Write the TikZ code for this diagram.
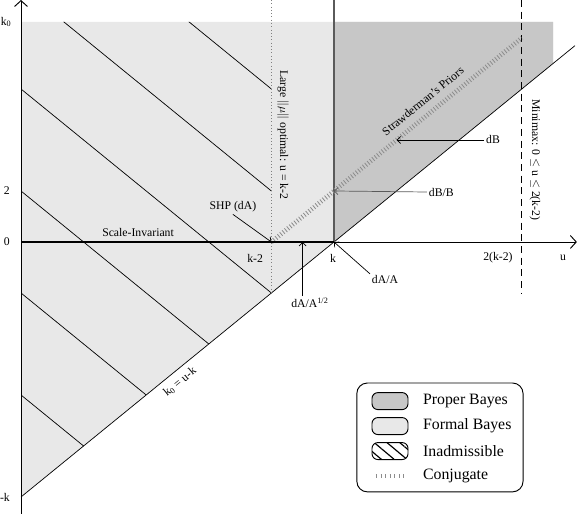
\documentclass[tikz,border=0pt]{standalone}
\usepackage{fontspec}
\setmainfont{Liberation Serif}
\usetikzlibrary{arrows.meta,patterns.meta}

\definecolor{properbayes}{RGB}{199,199,199}
\definecolor{formalbayes}{RGB}{232,232,232}
\definecolor{edgegray}{RGB}{90,90,90}
\definecolor{conjgray}{RGB}{140,140,140}

\begin{document}
\begin{tikzpicture}[x=0.939cm, y=0.765cm, font=\fontsize{10}{12}\selectfont,
    lbl/.style={inner sep=1.5pt},
    ptr/.style={-{Straight Barb[length=3pt,width=6pt]}, line width=0.6pt},
    axis/.style={-{Straight Barb[length=5pt,width=11pt]}, line width=0.8pt},
    conj/.style={conjgray, line width=4pt, dash pattern=on 0.7pt off 1.9pt},
    swatch/.style={draw, line width=0.8pt, rounded corners=5pt, minimum width=1.08cm,
        minimum height=0.51cm, inner sep=0pt},
    legtext/.style={anchor=west, font=\fontsize{13.5}{16}\selectfont, inner sep=0pt}]
    \useasboundingbox (-0.671,-10.667) rectangle (17.796,9.490);

    % Formal and proper Bayes regions
    \fill[formalbayes] (0,8.63) -- (17,8.63) -- (17,7) -- (0,-10) -- cycle;
    \fill[properbayes] (10,0) -- (10,8.63) -- (17,8.63) -- (17,7) -- cycle;

    % Inadmissible region: lines u + k_0 = const
    \begin{scope}
        \clip (0,8.63) -- (8,8.63) -- (8,-2) -- (0,-10) -- cycle;
        \foreach \s in {14,10,6,2,-2,-6}
            \draw[line width=0.6pt] (-2,{\s+2}) -- ({\s+12},-12);
    \end{scope}

    % Axes
    \draw[axis] (0,-10.667) -- (0,9.49);
    \draw[axis] (0,0) -- (17.76,0);

    % Boundary k_0 = u - k
    \draw[line width=0.6pt] (0,-10) -- (17.7,7.7);

    % Vertical lines u = k, u = k-2, u = 2(k-2)
    \draw[edgegray, line width=1.2pt] (10,9.49) -- (10,0);
    \draw[gray, dotted, line width=0.8pt] (8,9.49) -- (8,-2);
    \draw[dash pattern=on 6pt off 4pt, line width=0.9pt] (16,9.49) -- (16,-2);

    % Conjugate priors
    \draw[conj] (8,0) -- (16,8);

    % Scale-invariant priors
    \draw[line width=2.2pt] (0,0) -- (10,0);

    % Named points
    \coordinate (shp) at (8,0);
    \coordinate (kpt) at (10,0);
    \coordinate (halfpt) at (9,0);
    \coordinate (dbbpt) at (10,2);
    \coordinate (dbpt) at (12,4);

    % Axis labels
    \node[anchor=east, inner sep=0pt] (k0lbl) at (-0.3,8.63) {k\textsubscript{0}};
    \node[anchor=east, inner sep=0pt] (twolbl) at (-0.35,2) {2};
    \node[anchor=east, inner sep=0pt] (zerolbl) at (-0.35,0) {0};
    \node[anchor=east, inner sep=0pt] (mklbl) at (-0.35,-10) {-k};
    \node[lbl] (km2lbl) at (7.48,-0.63) {k-2};
    \node[lbl] (klbl) at (9.97,-0.63) {k};
    \node[lbl] (twokm2lbl) at (15.24,-0.6) {2(k-2)};
    \node[lbl] (ulbl) at (17.32,-0.63) {u};

    % Curve labels
    \node[lbl] (scaleinv) at (3.74,0.39) {Scale-Invariant};
    \node[lbl, rotate=39.2] (straw) at (12.84,5.53) {Strawderman's Priors};
    \node[lbl, rotate=-90] (largemu) at (8.37,4.2) {Large $\|\mu\|$ optimal: u = k-2};
    \node[lbl, rotate=-90] (minimax) at (16.42,3.22) {Minimax: 0 $\le$ u $\le$ 2(k-2)};
    \node[lbl, rotate=39.2] (diaglbl) at (5.08,-5.49) {k\textsubscript{0} = u-k};

    % Pointers
    \node[lbl] (shplbl) at (6.77,1.37) {SHP (dA)};
    \draw[ptr] (shplbl.south) -- (shp);
    \node[lbl] (dahalf) at (9.23,-2.39) {dA/A\textsuperscript{1/2}};
    \draw[ptr] (dahalf.north -| halfpt) -- (halfpt);
    \node[lbl] (daa) at (11.63,-1.49) {dA/A};
    \draw[ptr] (daa.north west) -- (kpt);
    \node[lbl] (dbb) at (13.43,1.96) {dB/B};
    \draw[ptr, edgegray] (dbb.west) -- (dbbpt);
    \node[lbl] (db) at (15.08,4.0) {dB};
    \draw[ptr] (db.west) -- (dbpt);

    % Legend
    \draw[line width=0.8pt, rounded corners=9pt] (10.73,-5.53) rectangle (16.04,-9.80);
    \node[swatch, fill=properbayes] (swproper) at (11.79,-6.24) {};
    \node[swatch, fill=formalbayes] (swformal) at (11.79,-7.22) {};
    \node[swatch, pattern={Lines[angle=-40,distance=7pt,line width=1pt]}] (swinadm) at (11.79,-8.20) {};
    \draw[conj, line width=3.5pt, dash pattern=on 0.7pt off 3.2pt] (11.34,-9.18) -- (12.33,-9.18);
    \node[legtext] (ltproper) at (12.84,-6.24) {Proper Bayes};
    \node[legtext] (ltformal) at (12.84,-7.22) {Formal Bayes};
    \node[legtext] (ltinadm) at (12.84,-8.20) {Inadmissible};
    \node[legtext] (ltconj) at (12.84,-9.18) {Conjugate};
\end{tikzpicture}
\end{document}
